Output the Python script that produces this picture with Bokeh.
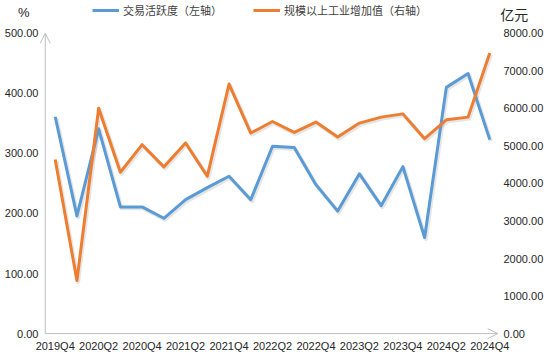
from bokeh.plotting import figure
from bokeh.models import (Range1d, LinearAxis, FixedTicker, NumeralTickFormatter,
                          Legend, LegendItem, Label, Arrow, OpenHead, ColumnDataSource)
from bokeh.transform import dodge
from bokeh.embed import file_html
from bokeh.resources import INLINE

quarters = ["2019Q4", "2020Q1", "2020Q2", "2020Q3", "2020Q4", "2021Q1", "2021Q2",
            "2021Q3", "2021Q4", "2022Q1", "2022Q2", "2022Q3", "2022Q4", "2023Q1",
            "2023Q2", "2023Q3", "2023Q4", "2024Q1", "2024Q2", "2024Q3", "2024Q4"]
activity = [361, 196, 341, 211, 211, 192, 223, 243, 262, 223, 312, 310, 248, 204,
            266, 213, 278, 160, 410, 433, 323]
industrial = [4636, 1412, 6005, 4300, 5033, 4442, 5079, 4193, 6649, 5343, 5650, 5360,
              5635, 5235, 5608, 5767, 5854, 5192, 5695, 5767, 7478]
left_ticks = [0, 100, 200, 300, 400, 500]
right_ticks = [0, 1000, 2000, 3000, 4000, 5000, 6000, 7000, 8000]
label_every = 2

# ---- layout (pixels inside the figure) ----
W, H = 546, 354
px_first, px_last = 55, 492          # first / last category position
px_axis_left, px_axis_right = 45, 500
px_y0, px_ytop = 335, 33

n = len(quarters)
xs = list(range(n))
y_lo, y_hi = left_ticks[0], left_ticks[-1]
ratio = right_ticks[-1] / left_ticks[-1]
ppu_x = (px_last - px_first) / (n - 1)
ppu_y = (px_y0 - px_ytop) / (y_hi - y_lo)
x_axis_start = (px_axis_left - px_first) / ppu_x
x_axis_end = (n - 1) + (px_axis_right - px_last) / ppu_x

xr = Range1d(-px_first / ppu_x, (n - 1) + (W - px_last) / ppu_x)
yr = Range1d(y_lo - (H - px_y0) / ppu_y, y_hi + px_ytop / ppu_y)

p = figure(width=W, height=H, output_backend="svg", toolbar_location=None,
           x_range=xr, y_range=yr, min_border=0,
           min_border_left=0, min_border_right=0, min_border_top=0, min_border_bottom=0)
p.outline_line_color = None
p.xgrid.visible = False
p.ygrid.visible = False

tick_font = "Liberation Sans"
tick_color = "#262626"

xt = xs[::label_every]
p.xaxis.ticker = FixedTicker(ticks=xt)
p.xaxis.major_label_overrides = {i: quarters[i] for i in xt}
p.yaxis.ticker = FixedTicker(ticks=left_ticks)
p.yaxis.formatter = NumeralTickFormatter(format="0.00")

p.extra_y_ranges = {"right": Range1d(yr.start * ratio, yr.end * ratio)}
rax = LinearAxis(y_range_name="right", ticker=FixedTicker(ticks=right_ticks),
                 formatter=NumeralTickFormatter(format="0.00"))
p.add_layout(rax, "right")

for ax in [p.xaxis[0], p.yaxis[0], rax]:
    ax.axis_line_color = None
    ax.major_tick_line_color = None
    ax.minor_tick_line_color = None
    ax.major_tick_out = 0
    ax.major_tick_in = 0
    ax.minor_tick_out = 0
    ax.minor_tick_in = 0
    ax.major_label_text_font = tick_font
    ax.major_label_text_font_size = "11px"
    ax.major_label_text_color = tick_color
p.xaxis.major_label_standoff = -13
p.yaxis[0].major_label_standoff = -38
rax.major_label_standoff = -40

axis_gray = "#bfbfbf"
p.add_layout(Arrow(end=OpenHead(size=10, line_color=axis_gray, line_width=1),
                   x_start=x_axis_start, y_start=y_lo, x_end=x_axis_start, y_end=y_hi,
                   line_color=axis_gray, line_width=1))
p.add_layout(Arrow(end=OpenHead(size=10, line_color=axis_gray, line_width=1),
                   x_start=x_axis_start, y_start=y_lo, x_end=x_axis_end, y_end=y_lo,
                   line_color=axis_gray, line_width=1))

src = ColumnDataSource(dict(x=xs, activity=activity, industrial=industrial))

# soft drop shadows (Excel-style)
p.line(x=dodge("x", 1.2 / ppu_x), y=dodge("activity", -1.5 / ppu_y), source=src,
       line_color="#000000", line_alpha=0.10, line_width=4, line_join="round")
p.line(x=dodge("x", 1.2 / ppu_x), y=dodge("industrial", -1.5 / ppu_y * ratio), source=src,
       y_range_name="right", line_color="#000000", line_alpha=0.10, line_width=4,
       line_join="round")

r1 = p.line(x="x", y="activity", source=src, line_color="#5B9BD5", line_width=3,
            line_join="round")
r2 = p.line(x="x", y="industrial", source=src, y_range_name="right",
            line_color="#ED7D31", line_width=3, line_join="round")

legend = Legend(items=[LegendItem(label="交易活跃度（左轴）", renderers=[r1]),
                       LegendItem(label="规模以上工业增加值（右轴）", renderers=[r2])],
                orientation="horizontal", location=(92, H - 20),
                glyph_width=27, glyph_height=12, label_height=12, label_standoff=4,
                spacing=31, padding=0, margin=0, border_line_color=None,
                background_fill_alpha=0,
                label_text_font="Noto Sans CJK SC", label_text_font_size="11px",
                label_text_color="#404040")
p.add_layout(legend)

p.add_layout(Label(x=x_axis_start, y=y_hi, x_offset=-21.5, y_offset=20.5, text="%",
                   text_align="center", text_baseline="middle",
                   text_font="Liberation Sans", text_font_size="13px", text_color="#262626"))
p.add_layout(Label(x=x_axis_end, y=y_hi, x_offset=16.5, y_offset=19, text="亿元",
                   text_align="center", text_baseline="middle",
                   text_font="Noto Sans CJK SC", text_font_size="14px", text_color="#262626"))

open("out.html", "w").write(file_html(p, INLINE))
